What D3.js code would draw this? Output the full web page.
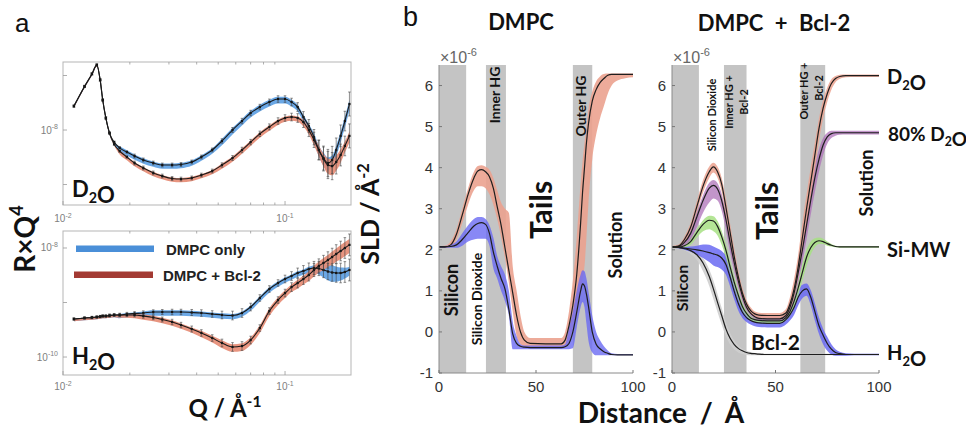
<!DOCTYPE html>
<html><head><meta charset="utf-8">
<script src="https://cdn.jsdelivr.net/npm/d3@7"></script>
<style>
html,body{margin:0;padding:0;background:#fff;}
svg{display:block;}
text{font-family:"Liberation Sans",Arial,sans-serif;}
.lbl{font-family:Lato,"Liberation Sans",sans-serif;font-weight:700;fill:#111;}
</style></head><body>
<svg id="fig" width="966" height="434"></svg>
<script>
// ---------------- Panel a : reflectivity (R x Q^4) ----------------
const Q = [0.0112,0.0125,0.0135,0.0142,0.0147,0.0151,0.0156,0.0162,0.017,0.018,0.0194,0.021,0.023,0.0255,0.028,0.031,0.034,0.038,0.042,0.047,0.052,0.058,0.064,0.07,0.077,0.085,0.093,0.1,0.107,0.114,0.121,0.128,0.135,0.142,0.149,0.156,0.163,0.17,0.178,0.186,0.195];
const rD2O_DMPC = [2.75e-8,6.3e-8,1.07e-7,1.56e-7,8.3e-8,3.55e-8,1.66e-8,8.8e-9,6.0e-9,4.7e-9,3.95e-9,3.33e-9,2.82e-9,2.48e-9,2.28e-9,2.28e-9,2.33e-9,2.59e-9,3.2e-9,4.3e-9,6.3e-9,1.0e-8,1.46e-8,2.05e-8,2.64e-8,3.26e-8,3.7e-8,3.7e-8,3.26e-8,2.64e-8,1.73e-8,1.18e-8,7.4e-9,4.3e-9,3.06e-9,2.48e-9,2.82e-9,4.3e-9,7.8e-9,1.46e-8,3.0e-8];
const rD2O_Bcl2 = [2.75e-8,6.3e-8,1.07e-7,1.56e-7,8.3e-8,3.55e-8,1.66e-8,8.8e-9,5.5e-9,4.1e-9,3.2e-9,2.48e-9,2.01e-9,1.63e-9,1.43e-9,1.29e-9,1.26e-9,1.32e-9,1.49e-9,1.77e-9,2.28e-9,3.06e-9,4.3e-9,6.0e-9,8.5e-9,1.14e-8,1.46e-8,1.66e-8,1.73e-8,1.66e-8,1.4e-8,1.0e-8,6.6e-9,4.3e-9,2.94e-9,2.28e-9,2.18e-9,2.59e-9,3.48e-9,5.1e-9,7.8e-9];
const rH2O_DMPC = [4.98e-10,5.2e-10,5.31e-10,5.42e-10,5.53e-10,5.65e-10,5.65e-10,5.77e-10,5.9e-10,5.9e-10,6.15e-10,6.28e-10,6.41e-10,6.7e-10,6.7e-10,6.7e-10,6.7e-10,6.56e-10,6.41e-10,6.15e-10,5.9e-10,5.77e-10,6.41e-10,8.26e-10,1.21e-9,1.77e-9,2.28e-9,2.7e-9,3.06e-9,3.48e-9,3.78e-9,4.12e-9,4.3e-9,4.21e-9,3.95e-9,3.7e-9,3.55e-9,3.48e-9,3.48e-9,3.63e-9,3.95e-9];
const rH2O_Bcl2 = [4.98e-10,5.2e-10,5.31e-10,5.42e-10,5.53e-10,5.65e-10,5.65e-10,5.77e-10,5.9e-10,5.9e-10,5.9e-10,5.9e-10,5.65e-10,5.31e-10,4.88e-10,4.39e-10,3.86e-10,3.26e-10,2.76e-10,2.23e-10,1.81e-10,1.53e-10,1.59e-10,2.05e-10,3.4e-10,6.98e-10,1.11e-9,1.49e-9,1.92e-9,2.28e-9,2.7e-9,3.2e-9,3.95e-9,4.68e-9,5.31e-9,6.03e-9,6.84e-9,7.76e-9,8.81e-9,1.0e-8,1.14e-8];
// error bars of the measured points (decades)
const errD2O = [0.02,0.02,0.02,0.02,0.02,0.02,0.02,0.02,0.02,0.02,0.02,0.035,0.035,0.035,0.035,0.035,0.035,0.035,0.035,0.035,0.04,0.045,0.05,0.05,0.05,0.055,0.06,0.06,0.07,0.08,0.1,0.12,0.14,0.18,0.22,0.25,0.25,0.22,0.2,0.18,0.22];
const errH2O = [0.02,0.02,0.02,0.02,0.02,0.02,0.02,0.025,0.025,0.03,0.03,0.035,0.04,0.04,0.045,0.05,0.05,0.055,0.06,0.06,0.07,0.08,0.08,0.07,0.06,0.06,0.06,0.07,0.08,0.09,0.1,0.11,0.12,0.13,0.14,0.15,0.16,0.17,0.18,0.19,0.2];
// fit uncertainty band half widths (decades)
const wD2O_DMPC = [0.01,0.01,0.01,0.01,0.01,0.01,0.01,0.01,0.01,0.05,0.05,0.05,0.05,0.05,0.05,0.05,0.05,0.05,0.05,0.05,0.06,0.06,0.06,0.06,0.06,0.06,0.06,0.06,0.06,0.06,0.06,0.06,0.09,0.1,0.12,0.12,0.1,0.1,0.1,0.1,0.1];
const wD2O_Bcl2 = [0.01,0.01,0.01,0.01,0.01,0.01,0.01,0.01,0.01,0.04,0.04,0.04,0.04,0.04,0.04,0.04,0.04,0.04,0.04,0.04,0.05,0.05,0.05,0.05,0.05,0.05,0.05,0.05,0.05,0.05,0.06,0.06,0.08,0.1,0.12,0.14,0.15,0.14,0.12,0.1,0.1];
const wH2O_DMPC = [0.02,0.02,0.02,0.02,0.02,0.02,0.02,0.02,0.02,0.04,0.04,0.04,0.05,0.05,0.05,0.05,0.05,0.05,0.05,0.05,0.05,0.05,0.05,0.05,0.05,0.05,0.05,0.05,0.05,0.05,0.05,0.06,0.07,0.09,0.12,0.14,0.15,0.14,0.12,0.1,0.08];
const wH2O_Bcl2 = [0.02,0.02,0.02,0.02,0.02,0.02,0.02,0.02,0.02,0.03,0.03,0.04,0.05,0.05,0.05,0.05,0.05,0.05,0.06,0.06,0.07,0.07,0.07,0.07,0.07,0.07,0.07,0.07,0.07,0.08,0.08,0.09,0.1,0.1,0.11,0.11,0.12,0.12,0.13,0.13,0.13];
const qTickMinor = [0.02,0.03,0.04,0.05,0.06,0.07,0.08,0.09];
const qTickMajor = [0.01,0.1];

// ---------------- Panel b : SLD profiles (x 1e-6) ----------------
const zDMPC = [0,3,6,9,12,15,18,20,22,24,26,28,30,32,34,36,38,40,42,44,47,55,63,65,67,69,71,73,74,75,76,77,79,81,83,85,87,89,92,96,100];
const sldD2O_DMPC   = [2.07,2.07,2.12,2.38,2.85,3.35,3.75,3.92,3.95,3.9,3.78,3.5,3.05,2.6,2.05,1.5,0.95,0.4,0.0,-0.2,-0.28,-0.29,-0.29,-0.2,0.15,0.65,1.4,2.65,3.4,4.0,4.6,5.05,5.62,5.9,6.07,6.17,6.25,6.27,6.27,6.27,6.27];
const sldD2O_DMPC_hi= [2.09,2.1,2.2,2.5,3.0,3.5,3.9,4.04,4.06,4.02,3.95,3.75,3.45,3.15,3.0,2.9,1.6,1.0,0.4,0.0,-0.15,-0.15,-0.15,0.0,0.5,1.25,2.3,3.6,4.15,4.6,5.0,5.4,5.85,6.1,6.22,6.28,6.29,6.29,6.29,6.29,6.29];
const sldD2O_DMPC_lo= [2.05,2.05,2.07,2.25,2.65,3.1,3.45,3.55,3.55,3.5,3.35,3.1,2.75,2.3,1.8,1.2,0.5,-0.1,-0.3,-0.38,-0.38,-0.38,-0.38,-0.37,-0.25,0.1,0.5,1.0,1.3,1.6,2.3,3.1,4.2,4.8,5.2,5.5,5.8,6.0,6.12,6.18,6.2];
const sldH2O_DMPC   = [2.07,2.07,2.08,2.12,2.25,2.42,2.58,2.64,2.66,2.62,2.4,1.95,1.6,1.3,1.05,0.55,-0.05,-0.28,-0.35,-0.37,-0.38,-0.38,-0.38,-0.36,-0.28,0.0,0.48,1.0,1.17,1.12,0.92,0.64,0.0,-0.3,-0.41,-0.48,-0.52,-0.55,-0.56,-0.56,-0.56];
const sldH2O_DMPC_hi= [2.09,2.09,2.12,2.2,2.4,2.6,2.75,2.8,2.8,2.75,2.6,2.3,1.85,1.6,1.4,1.0,0.25,-0.1,-0.3,-0.33,-0.33,-0.33,-0.33,-0.3,0.1,0.5,1.0,1.4,1.5,1.48,1.3,1.0,0.4,0.0,-0.2,-0.35,-0.45,-0.52,-0.54,-0.54,-0.54];
const sldH2O_DMPC_lo= [2.05,2.05,2.05,2.05,2.1,2.2,2.25,2.27,2.27,2.27,2.1,1.55,1.3,1.0,0.75,0.4,-0.42,-0.42,-0.42,-0.42,-0.42,-0.42,-0.42,-0.42,-0.42,-0.4,0.1,0.6,0.73,0.6,0.2,-0.2,-0.5,-0.57,-0.57,-0.57,-0.57,-0.57,-0.57,-0.57,-0.57];

const zBcl = [0,3,6,9,12,15,18,20,22,24,26,28,30,32,34,36,38,40,42,46,52,55,57,59,61,63,65,67,69,71,73,75,77,79,81,84,88,92,96,100];
const sldBcl_D2O    = [2.07,2.09,2.25,2.55,3.05,3.55,3.9,4.02,3.9,3.6,3.05,2.45,1.85,1.35,0.95,0.68,0.52,0.44,0.41,0.4,0.4,0.46,0.68,1.05,1.6,2.3,3.0,3.65,4.3,4.95,5.45,5.8,6.05,6.17,6.22,6.24,6.24,6.24,6.24,6.24];
const sldBcl_D2O_hi = [2.09,2.12,2.32,2.65,3.18,3.7,4.03,4.12,4.02,3.75,3.25,2.65,2.05,1.5,1.07,0.78,0.6,0.5,0.47,0.46,0.46,0.55,0.85,1.3,1.9,2.65,3.35,4.0,4.6,5.2,5.65,5.95,6.15,6.23,6.26,6.27,6.27,6.27,6.27,6.27];
const sldBcl_D2O_lo = [2.05,2.06,2.18,2.45,2.92,3.4,3.75,3.88,3.75,3.42,2.85,2.25,1.65,1.18,0.82,0.58,0.44,0.37,0.34,0.33,0.33,0.38,0.55,0.85,1.35,2.0,2.65,3.3,3.95,4.65,5.2,5.6,5.9,6.08,6.16,6.2,6.21,6.21,6.21,6.21];
const sldBcl_80     = [2.07,2.08,2.18,2.4,2.8,3.2,3.5,3.57,3.48,3.2,2.75,2.2,1.7,1.25,0.88,0.6,0.45,0.37,0.33,0.32,0.32,0.4,0.6,0.95,1.45,2.0,2.6,3.2,3.75,4.2,4.55,4.75,4.83,4.85,4.85,4.85,4.85,4.85,4.85,4.85];
const sldBcl_80_hi  = [2.09,2.1,2.24,2.5,2.92,3.33,3.63,3.7,3.62,3.36,2.92,2.38,1.86,1.38,0.98,0.68,0.52,0.43,0.39,0.38,0.38,0.48,0.72,1.12,1.7,2.3,2.92,3.5,4.05,4.45,4.72,4.85,4.9,4.9,4.9,4.9,4.9,4.9,4.9,4.9];
const sldBcl_80_lo  = [2.05,2.05,2.1,2.25,2.55,2.9,3.15,3.25,3.2,2.95,2.5,1.95,1.5,1.08,0.75,0.52,0.39,0.32,0.28,0.27,0.27,0.33,0.5,0.78,1.2,1.7,2.25,2.85,3.4,3.9,4.3,4.58,4.72,4.78,4.8,4.81,4.81,4.81,4.81,4.81];
const sldBcl_SiMW   = [2.07,2.07,2.1,2.2,2.42,2.62,2.72,2.7,2.57,2.32,2.0,1.6,1.22,0.9,0.62,0.45,0.34,0.3,0.28,0.27,0.27,0.35,0.5,0.75,1.08,1.45,1.82,2.05,2.18,2.22,2.2,2.15,2.11,2.08,2.07,2.07,2.07,2.07,2.07,2.07];
const sldBcl_SiMW_hi= [2.09,2.09,2.13,2.26,2.5,2.72,2.83,2.82,2.7,2.46,2.14,1.74,1.35,1.01,0.71,0.52,0.4,0.35,0.33,0.32,0.32,0.42,0.6,0.9,1.26,1.65,2.0,2.2,2.28,2.3,2.27,2.2,2.14,2.1,2.09,2.09,2.09,2.09,2.09,2.09];
const sldBcl_SiMW_lo= [2.05,2.05,2.06,2.12,2.3,2.45,2.5,2.45,2.35,2.12,1.82,1.45,1.1,0.8,0.54,0.39,0.29,0.25,0.23,0.22,0.22,0.29,0.4,0.6,0.9,1.25,1.6,1.88,2.06,2.14,2.14,2.1,2.08,2.06,2.05,2.05,2.05,2.05,2.05,2.05];
const sldBcl_H2O    = [2.07,2.06,2.04,2.02,2.0,1.97,1.93,1.9,1.87,1.8,1.65,1.35,1.0,0.7,0.48,0.35,0.28,0.24,0.22,0.21,0.21,0.3,0.42,0.6,0.85,1.0,1.05,0.85,0.5,0.15,-0.08,-0.28,-0.42,-0.5,-0.53,-0.55,-0.55,-0.55,-0.55,-0.55];
const sldBcl_H2O_hi = [2.09,2.08,2.08,2.08,2.1,2.13,2.12,2.08,2.03,1.97,1.85,1.58,1.22,0.88,0.6,0.45,0.36,0.33,0.32,0.32,0.32,0.42,0.56,0.78,1.02,1.15,1.18,1.02,0.7,0.35,0.08,-0.12,-0.3,-0.42,-0.48,-0.52,-0.53,-0.53,-0.53,-0.53];
const sldBcl_H2O_lo = [2.05,2.04,2.0,1.95,1.88,1.8,1.7,1.62,1.58,1.52,1.4,1.12,0.8,0.52,0.34,0.24,0.18,0.14,0.12,0.11,0.11,0.18,0.28,0.42,0.65,0.82,0.88,0.65,0.28,-0.05,-0.3,-0.46,-0.55,-0.58,-0.58,-0.58,-0.57,-0.57,-0.57,-0.57];
const sldBcl_prot   = [2.07,2.06,2.03,1.98,1.88,1.68,1.35,1.05,0.72,0.4,0.08,-0.15,-0.3,-0.4,-0.46,-0.5,-0.52,-0.53,-0.54,-0.55,-0.55,-0.55,-0.55,-0.55,-0.55,-0.55,-0.55,-0.55,-0.55,-0.55,-0.55,-0.55,-0.55,-0.55,-0.55,-0.55,-0.55,-0.55,-0.55,-0.55];
const sldBcl_prot_hi= [2.08,2.08,2.06,2.02,1.95,1.8,1.52,1.25,0.92,0.58,0.25,-0.02,-0.2,-0.33,-0.41,-0.46,-0.49,-0.51,-0.52,-0.53,-0.53,-0.53,-0.53,-0.53,-0.53,-0.53,-0.53,-0.53,-0.53,-0.53,-0.53,-0.53,-0.53,-0.53,-0.53,-0.53,-0.53,-0.53,-0.53,-0.53];
const sldBcl_prot_lo= [2.06,2.04,1.98,1.9,1.75,1.48,1.12,0.8,0.48,0.18,-0.1,-0.3,-0.42,-0.5,-0.54,-0.56,-0.57,-0.57,-0.57,-0.57,-0.57,-0.57,-0.57,-0.57,-0.57,-0.57,-0.57,-0.57,-0.57,-0.57,-0.57,-0.57,-0.57,-0.57,-0.57,-0.57,-0.57,-0.57,-0.57,-0.57];

const regionsDMPC = [[0,14],[24.2,34.5],[69,79]];
const regionsBcl  = [[0,13],[25.1,36],[62,74]];
const sldTicks = [-1,0,1,2,3,4,5,6];
const zTicks = [0,50,100];

// ---------------- drawing ----------------
const svg = d3.select('#fig');

function sup(sel, base, exp, size){
  sel.append('tspan').text(base);
  sel.append('tspan').attr('dy', -size*0.45).attr('font-size', size*0.7).text(exp);
}

// ----- panel a -----
const xA = d3.scaleLog().domain([0.01, 0.1982]).range([63, 351]);
const blueA = '#5b9fe3', redA = '#e58a72';

function panelA(yS, top, bottom, curves, err, yTicks, yLabs, xLabY, id){
  const g = svg.append('g');
  g.append('rect').attr('x',63).attr('y',top).attr('width',288).attr('height',bottom-top)
    .attr('fill','#fff').attr('stroke','#b5b5b5').attr('stroke-width',1);
  g.append('clipPath').attr('id',id).append('rect')
    .attr('x',63).attr('y',top).attr('width',288).attr('height',bottom-top);
  qTickMinor.forEach(q=>{
    g.append('line').attr('x1',xA(q)).attr('x2',xA(q)).attr('y1',bottom).attr('y2',bottom-2.5).attr('stroke','#999').attr('stroke-width',0.8);
    g.append('line').attr('x1',xA(q)).attr('x2',xA(q)).attr('y1',top).attr('y2',top+2.5).attr('stroke','#999').attr('stroke-width',0.8);
  });
  qTickMajor.forEach(q=>{
    g.append('line').attr('x1',xA(q)).attr('x2',xA(q)).attr('y1',bottom).attr('y2',bottom-4).attr('stroke','#999').attr('stroke-width',0.8);
  });
  yTicks.forEach(v=>{
    g.append('line').attr('x1',63).attr('x2',67).attr('y1',yS(v)).attr('y2',yS(v)).attr('stroke','#999').attr('stroke-width',0.8);
  });
  yLabs.forEach(([v,e])=>{
    const t = g.append('text').attr('x',58).attr('y',yS(v)+3.5).attr('text-anchor','end')
      .attr('font-size',10).attr('fill','#808080');
    sup(t,'10',e,10);
  });
  [[0.01,'-2'],[0.1,'-1']].forEach(([q,e])=>{
    const t = g.append('text').attr('x',xA(q)).attr('y',xLabY).attr('text-anchor','middle')
      .attr('font-size',10).attr('fill','#808080');
    sup(t,'10',e,10);
  });
  const inner = g.append('g').attr('clip-path',`url(#${id})`);
  curves.forEach(c=>{
    const pts = Q.map((q,i)=>({q, r:c.r[i], w:c.w[i]}));
    const area = d3.area().x(d=>xA(d.q))
      .y0(d=>yS(d.r*Math.pow(10,-d.w-0.02))).y1(d=>yS(d.r*Math.pow(10,d.w-0.02)))
      .curve(d3.curveMonotoneX);
    inner.append('path').attr('d',area(pts)).attr('fill',c.color).attr('opacity',0.9);
  });
  curves.forEach(c=>{
    Q.forEach((q,i)=>{
      const x = xA(q), r = c.r[i], e = err[i];
      const ya = yS(r*Math.pow(10,e)), yb = yS(r*Math.pow(10,-e));
      inner.append('line').attr('x1',x).attr('x2',x).attr('y1',ya).attr('y2',yb).attr('stroke','#444').attr('stroke-width',0.6);
      inner.append('line').attr('x1',x-1.3).attr('x2',x+1.3).attr('y1',ya).attr('y2',ya).attr('stroke','#444').attr('stroke-width',0.6);
      inner.append('line').attr('x1',x-1.3).attr('x2',x+1.3).attr('y1',yb).attr('y2',yb).attr('stroke','#444').attr('stroke-width',0.6);
      inner.append('rect').attr('x',x-1.1).attr('y',yS(r)-1.1).attr('width',2.2).attr('height',2.2).attr('fill','#111');
    });
  });
  curves.forEach(c=>{
    const line = d3.line().x(q=>xA(q)).y((q,i)=>yS(c.r[i])).curve(d3.curveMonotoneX);
    inner.append('path').attr('d',line(Q)).attr('fill','none').attr('stroke','#1a1a1a').attr('stroke-width',1.1);
  });
  return g;
}

const yTop = d3.scaleLog().domain([4.21e-10, 1.77e-7]).range([205, 62]);
const yBot = d3.scaleLog().domain([4.68e-11, 2.05e-8]).range([375, 231]);

panelA(yTop, 62, 205,
  [{r:rD2O_DMPC, w:wD2O_DMPC, color:blueA},{r:rD2O_Bcl2, w:wD2O_Bcl2, color:redA}],
  errD2O, [1e-9,1e-8,1e-7], [[1e-8,'-8']], 222, 'clipTop');
panelA(yBot, 231, 375,
  [{r:rH2O_DMPC, w:wH2O_DMPC, color:blueA},{r:rH2O_Bcl2, w:wH2O_Bcl2, color:redA}],
  errH2O, [1e-10,1e-9,1e-8], [[1e-8,'-8'],[1e-10,'-10']], 390, 'clipBot');

// legend
svg.append('rect').attr('x',76).attr('y',245.5).attr('width',78).attr('height',6.5).attr('fill','#4a8fd8');
svg.append('rect').attr('x',74).attr('y',271.5).attr('width',79).attr('height',6.5).attr('fill','#a33a33');
svg.append('text').attr('x',166).attr('y',255).attr('font-size',15).attr('font-weight',700).attr('fill','#222').text('DMPC only');
svg.append('text').attr('x',163).attr('y',281).attr('font-size',15).attr('font-weight',700).attr('fill','#222').text('DMPC + Bcl-2');

function subText(x,y,size,parts,anchor){
  const t = svg.append('text').attr('class','lbl').attr('x',x).attr('y',y).attr('font-size',size)
    .attr('text-anchor',anchor||'start');
  parts.forEach(p=>{
    if(p[1]==='sub'){ t.append('tspan').attr('dy',size*0.28).attr('font-size',size*0.65).text(p[0]); t.append('tspan').attr('dy',-size*0.28).text(''); }
    else if(p[1]==='sup'){ t.append('tspan').attr('dy',-size*0.42).attr('font-size',size*0.65).text(p[0]); t.append('tspan').attr('dy',size*0.42).text(''); }
    else t.append('tspan').text(p[0]);
  });
  return t;
}
subText(72,197,22,[['D'],['2','sub'],['O']]);
subText(72,364,22,[['H'],['2','sub'],['O']]);

function rotLabel(x,y,size,parts){
  const t = svg.append('text').attr('class','lbl').attr('font-size',size).attr('text-anchor','middle')
    .attr('transform',`translate(${x},${y}) rotate(-90)`);
  parts.forEach(p=>{
    if(p[1]==='sup'){ t.append('tspan').attr('dy',-size*0.42).attr('font-size',size*0.65).text(p[0]); t.append('tspan').attr('dy',size*0.42).text(''); }
    else if(p[1]==='sub'){ t.append('tspan').attr('dy',size*0.28).attr('font-size',size*0.65).text(p[0]); t.append('tspan').attr('dy',-size*0.28).text(''); }
    else t.append('tspan').text(p[0]);
  });
  return t;
}
rotLabel(35,239,28,[['R×Q'],['4','sup']]);
subText(225,417,24,[['Q / Å'],['-1','sup']],'middle');
rotLabel(379,214,25,[['SLD / Å'],['-2','sup']]);

svg.append('text').attr('x',15).attr('y',32).attr('font-size',26).attr('fill','#111').text('a');
svg.append('text').attr('x',403).attr('y',26).attr('font-size',27).attr('fill','#111').text('b');
svg.append('text').attr('class','lbl').attr('x',521).attr('y',30).attr('font-size',22).attr('text-anchor','middle').text('DMPC');
svg.append('text').attr('class','lbl').attr('x',774).attr('y',31).attr('font-size',22).attr('text-anchor','middle').attr('word-spacing',6).text('DMPC + Bcl-2');
svg.append('text').attr('class','lbl').attr('x',661).attr('y',423).attr('font-size',28).attr('text-anchor','middle').attr('word-spacing',6).text('Distance / Å');

// ----- panel b -----
const ySLD = d3.scaleLinear().domain([-1,6.5]).range([373,65]);

function panelB(x0, x1, regions, series){
  const xS = d3.scaleLinear().domain([0,100]).range([x0,x1]);
  const g = svg.append('g');
  regions.forEach(([a,b])=>{
    g.append('rect').attr('x',xS(a)).attr('y',ySLD(6.5)).attr('width',xS(b)-xS(a)).attr('height',ySLD(-1)-ySLD(6.5)).attr('fill','#c4c4c4');
  });
  series.forEach(s=>{
    const area = d3.area().x(z=>xS(z)).y0((z,i)=>ySLD(s.lo[i])).y1((z,i)=>ySLD(s.hi[i])).curve(d3.curveMonotoneX);
    g.append('path').attr('d',area(s.z)).attr('fill',s.color).attr('opacity',s.op);
  });
  series.forEach(s=>{
    const line = d3.line().x(z=>xS(z)).y((z,i)=>ySLD(s.m[i])).curve(d3.curveMonotoneX);
    g.append('path').attr('d',line(s.z)).attr('fill','none').attr('stroke','#1e1e1e').attr('stroke-width',1.2);
  });
  g.append('line').attr('x1',x0).attr('x2',x0).attr('y1',ySLD(6.5)).attr('y2',ySLD(-1)).attr('stroke','#8a8a8a').attr('stroke-width',1);
  g.append('line').attr('x1',x0).attr('x2',x1).attr('y1',ySLD(-1)).attr('y2',ySLD(-1)).attr('stroke','#8a8a8a').attr('stroke-width',1);
  sldTicks.forEach(v=>{
    g.append('line').attr('x1',x0).attr('x2',x0+3).attr('y1',ySLD(v)).attr('y2',ySLD(v)).attr('stroke','#777');
    g.append('text').attr('x',x0-6).attr('y',ySLD(v)+5).attr('text-anchor','end').attr('font-size',15).attr('fill','#333').text(v);
  });
  zTicks.forEach(v=>{
    g.append('line').attr('x1',xS(v)).attr('x2',xS(v)).attr('y1',ySLD(-1)).attr('y2',ySLD(-1)-3).attr('stroke','#777');
    g.append('text').attr('x',xS(v)).attr('y',ySLD(-1)+19).attr('text-anchor','middle').attr('font-size',15).attr('fill','#333').text(v);
  });
  const t = g.append('text').attr('x',x0+1).attr('y',63).attr('font-size',16).attr('fill','#666');
  t.append('tspan').text('×10');
  t.append('tspan').attr('dy',-7).attr('font-size',11).text('-6');
  return xS;
}

const cRed = '#eba28f', cBlue = '#6a6af2', cPurple = '#ad72b8', cGreen = '#a7e184', cGray = '#cfcfcf';

panelB(439, 633, regionsDMPC, [
  {z:zDMPC, m:sldD2O_DMPC, hi:sldD2O_DMPC_hi, lo:sldD2O_DMPC_lo, color:cRed, op:0.9},
  {z:zDMPC, m:sldH2O_DMPC, hi:sldH2O_DMPC_hi, lo:sldH2O_DMPC_lo, color:cBlue, op:0.8}
]);

panelB(672, 879, regionsBcl, [
  {z:zBcl, m:sldBcl_prot, hi:sldBcl_prot_hi, lo:sldBcl_prot_lo, color:cGray, op:0.9},
  {z:zBcl, m:sldBcl_H2O, hi:sldBcl_H2O_hi, lo:sldBcl_H2O_lo, color:cBlue, op:0.85},
  {z:zBcl, m:sldBcl_SiMW, hi:sldBcl_SiMW_hi, lo:sldBcl_SiMW_lo, color:cGreen, op:0.85},
  {z:zBcl, m:sldBcl_80, hi:sldBcl_80_hi, lo:sldBcl_80_lo, color:cPurple, op:0.75},
  {z:zBcl, m:sldBcl_D2O, hi:sldBcl_D2O_hi, lo:sldBcl_D2O_lo, color:cRed, op:0.85}
]);

function rot(x,y,size,txt){
  svg.append('text').attr('class','lbl').attr('font-size',size).attr('text-anchor','middle')
    .attr('transform',`translate(${x},${y}) rotate(-90)`).text(txt);
}
rot(458,290,18,'Silicon');
rot(482,299,14,'Silicon Dioxide');
rot(500,95,14,'Inner HG');
rot(586,106,14,'Outer HG');
rot(552,210,30,'Tails');
rot(622,245,18,'Solution');

rot(688,288,16,'Silicon');
rot(716,115,11,'Silicon Dioxide');
rot(733,102,11,'Inner HG +');
rot(748,102,11,'Bcl-2');
rot(808,91,11,'Outer HG +');
rot(823,88,11,'Bcl-2');
rot(778,211,30,'Tails');
rot(873,183,18,'Solution');
svg.append('text').attr('class','lbl').attr('x',751).attr('y',350).attr('font-size',21).text('Bcl-2');

subText(887,84,20,[['D'],['2','sub'],['O']]);
subText(888,141,19,[['80% D'],['2','sub'],['O']]);
svg.append('text').attr('class','lbl').attr('x',887).attr('y',257).attr('font-size',20).text('Si-MW');
subText(887,360,20,[['H'],['2','sub'],['O']]);
</script>
</body></html>
